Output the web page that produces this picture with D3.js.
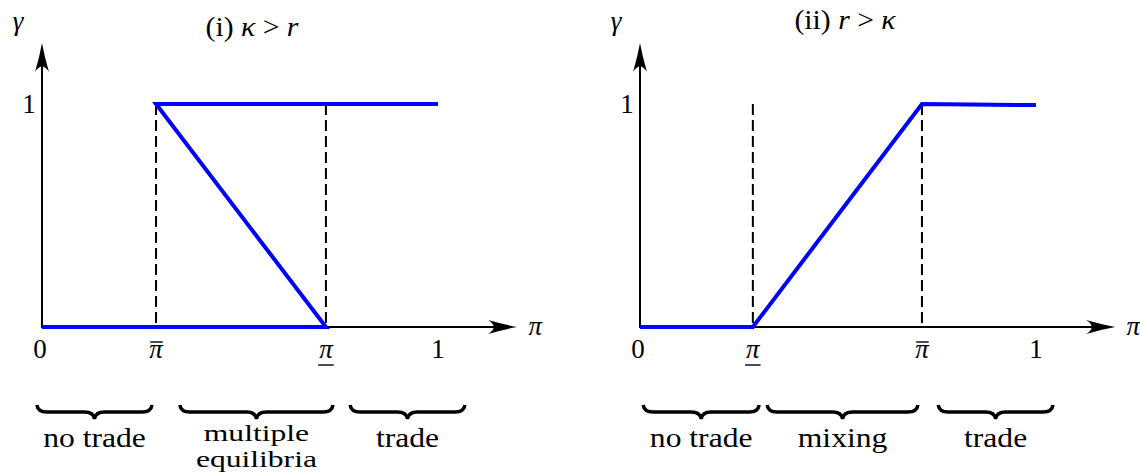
<!DOCTYPE html>
<html><head><meta charset="utf-8">
<script src="https://cdn.jsdelivr.net/npm/d3@7"></script>
<style>
html,body{margin:0;padding:0;background:#fff;}
text{font-family:"Liberation Serif","Times New Roman",serif;fill:#000;}
</style></head>
<body><svg id="chart" width="1140" height="473"></svg>
<script>
// ---------- data ----------
const panelTitles = [
  [["(i) ", "normal"], ["κ", "italic"], [" > ", "normal"], ["r", "italic"]],
  [["(ii) ", "normal"], ["r", "italic"], [" > ", "normal"], ["κ", "italic"]]
];
const leftCurveX  = [0, 0.717, 0.288, 1.0];
const leftCurveY  = [0, 0, 1, 1];
const rightCurveX = [0, 0.285, 0.712, 1.0];
const rightCurveY = [0, 0, 1, 0.995];
const leftThresholds  = [0.288, 0.717];
const rightThresholds = [0.285, 0.712];
const leftTickVals   = [0, 0.288, 0.717, 1];
const leftTickLabels = ["0", "π\u0304", "π\u0332", "1"];
const rightTickVals   = [0, 0.285, 0.712, 1];
const rightTickLabels = ["0", "π\u0332", "π\u0304", "1"];
const yTickVals = [1];
const yTickLabels = ["1"];
const leftRegions  = [[-0.013, 0.278], [0.348, 0.735], [0.778, 1.068]];
const leftRegionLabels  = [["no trade"], ["multiple", "equilibria"], ["trade"]];
const rightRegions = [[0.008, 0.301], [0.321, 0.702], [0.753, 1.043]];
const rightRegionLabels = [["no trade"], ["mixing"], ["trade"]];
const xAxisLabel = "π";
const yAxisLabel = "γ";

// ---------- layout ----------
const FONT = "Liberation Serif";
const FS = 27, STRETCH = 1.17;
const svg = d3.select("#chart");
svg.append("rect").attr("width",1140).attr("height",473).attr("fill","#fff");

function stretch(node, f){
  const w = node.getComputedTextLength();
  node.setAttribute("textLength", w*f);
  node.setAttribute("lengthAdjust","spacingAndGlyphs");
}

function brace(x0, x1, yTop){
  const m = (x0+x1)/2, yb = yTop+7, yt = yTop+14, r = 10;
  return `M${x0},${yTop} Q${x0+1},${yb} ${x0+r},${yb} L${m-r},${yb} Q${m-1},${yb} ${m},${yt} Q${m+1},${yb} ${m+r},${yb} L${x1-r},${yb} Q${x1-1},${yb} ${x1},${yTop}`;
}

function txt(g, fs){ return g.append("text").attr("font-family",FONT).attr("font-size",fs||FS); }

function drawPanel(p){
  const g = svg.append("g");
  const x = d3.scaleLinear().domain([0,1]).range([p.x0, p.x0+396]);
  const y = d3.scaleLinear().domain([0,1]).range([327,104]);
  const xEnd = 1.2, yEnd = 1.274;
  const AL = 29, AW = 7;
  // axes
  g.append("line").attr("x1",x(0)).attr("x2",x(xEnd)-AL+6).attr("y1",y(0)).attr("y2",y(0))
    .attr("stroke","#000").attr("stroke-width",2);
  g.append("line").attr("x1",x(0)).attr("x2",x(0)).attr("y1",y(0)+1).attr("y2",y(yEnd)+AL-6)
    .attr("stroke","#000").attr("stroke-width",2);
  const tx = x(xEnd), ty = y(0);
  g.append("path").attr("d",`M${tx},${ty} Q${tx-14},${ty-2.5} ${tx-AL},${ty-AW} Q${tx-18},${ty} ${tx-AL},${ty+AW} Q${tx-14},${ty+2.5} ${tx},${ty} Z`).attr("fill","#000");
  const vx = x(0), vy = y(yEnd);
  g.append("path").attr("d",`M${vx},${vy} Q${vx-2.5},${vy+14} ${vx-AW},${vy+AL} Q${vx},${vy+18} ${vx+AW},${vy+AL} Q${vx+2.5},${vy+14} ${vx},${vy} Z`).attr("fill","#000");
  // dashed thresholds
  g.selectAll("line.th").data(p.thresholds).join("line")
    .attr("x1",d=>x(d)).attr("x2",d=>x(d)).attr("y1",y(1)).attr("y2",y(0))
    .attr("stroke","#000").attr("stroke-width",2).attr("stroke-dasharray","11,5");
  // curve
  const pts = p.cx.map((v,i)=>[v,p.cy[i]]);
  g.append("path").attr("d", d3.line().x(d=>x(d[0])).y(d=>y(d[1]))(pts))
    .attr("fill","none").attr("stroke","#0000ff").attr("stroke-width",4)
    .attr("stroke-linejoin","miter");
  // x tick labels
  p.tickVals.forEach((v,i)=>{
    const lab = p.tickLabels[i];
    const base = lab.replace(/[\u0304\u0332]/g,"");
    const isGreek = base === "π";
    const cx = x(v)-(v===0?2:0);
    const t = txt(g).attr("x",cx).attr("y",358)
      .attr("text-anchor","middle")
      .attr("font-style",isGreek?"italic":"normal").text(base);
    const w = t.node().getComputedTextLength();
    if (lab.includes("\u0304")) {
      g.append("line").attr("x1",cx-w/2+1).attr("x2",cx+w/2).attr("y1",342).attr("y2",342)
        .attr("stroke","#000").attr("stroke-width",1.4);
    }
    if (lab.includes("\u0332")) {
      g.append("line").attr("x1",cx-w/2-1).attr("x2",cx+w/2+1).attr("y1",365).attr("y2",365)
        .attr("stroke","#000").attr("stroke-width",1.4);
    }
  });
  // y tick labels
  yTickVals.forEach((v,i)=>{
    txt(g).attr("x",x(0)-13).attr("y",y(v)+9).attr("text-anchor","middle").text(yTickLabels[i]);
  });
  // axis labels
  txt(g).attr("x",x(xEnd)+18).attr("y",ty+8).attr("text-anchor","middle")
    .attr("font-style","italic").text(xAxisLabel);
  txt(g).attr("x",x(0)-24).attr("y",30).attr("text-anchor","middle")
    .attr("font-style","italic").text(yAxisLabel);
  // title
  const tt = txt(g).attr("x",p.titleX).attr("y",p.titleY).attr("text-anchor","middle");
  p.title.forEach(s=>tt.append("tspan").attr("font-style",s[1]).text(s[0]));
  stretch(tt.node(), 1.1);
  // braces & labels
  p.regions.forEach((r,i)=>{
    const a = x(r[0]), b = x(r[1]);
    g.append("path").attr("d",brace(a,b,405)).attr("fill","none")
      .attr("stroke","#000").attr("stroke-width",3.4).attr("stroke-linecap","butt");
    const lines = p.regionLabels[i];
    if (lines.length === 1) {
      const t = txt(g).attr("x",(a+b)/2).attr("y",447).attr("text-anchor","middle").text(lines[0]);
      stretch(t.node(), STRETCH);
    } else {
      const fs2 = 23;
      lines.forEach((ln,j)=>{
        const t = txt(g, fs2).attr("x",(a+b)/2).attr("y",441+j*26)
          .attr("text-anchor","middle").text(ln);
        stretch(t.node(), STRETCH*FS/fs2);
      });
    }
  });
}

drawPanel({x0:42, cx:leftCurveX, cy:leftCurveY, thresholds:leftThresholds,
  tickVals:leftTickVals, tickLabels:leftTickLabels, regions:leftRegions,
  regionLabels:leftRegionLabels, title:panelTitles[0], titleX:252, titleY:36});
drawPanel({x0:640, cx:rightCurveX, cy:rightCurveY, thresholds:rightThresholds,
  tickVals:rightTickVals, tickLabels:rightTickLabels, regions:rightRegions,
  regionLabels:rightRegionLabels, title:panelTitles[1], titleX:845, titleY:29});
</script></body></html>
